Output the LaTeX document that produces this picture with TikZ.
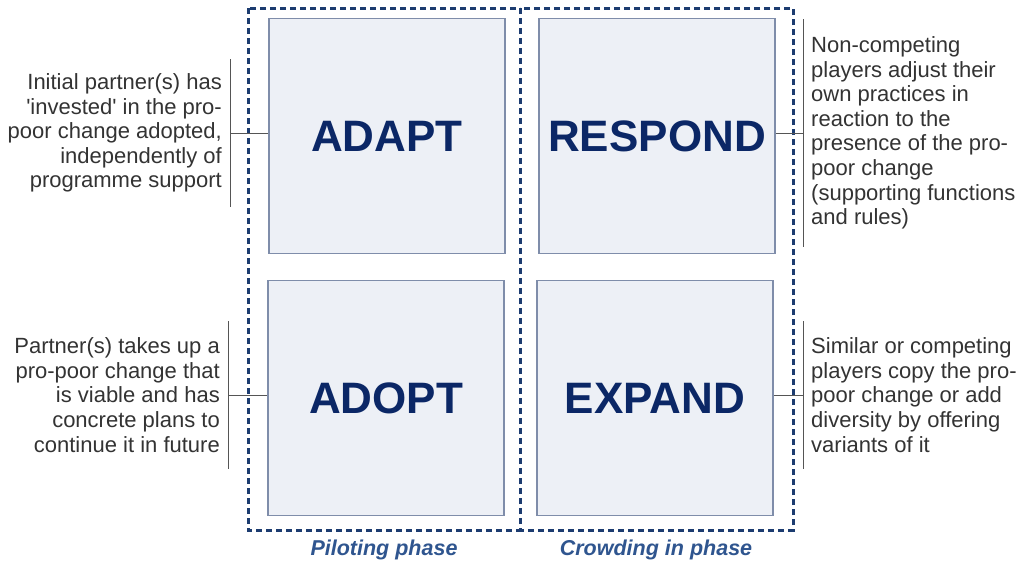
\documentclass[tikz,border=0pt]{standalone}
\usepackage{fontspec}
\setmainfont{Liberation Sans}
\usepackage{tikz}
\usetikzlibrary{positioning}

\definecolor{navy}{HTML}{0B2766}
\definecolor{dashblue}{HTML}{1C3C70}
\definecolor{boxfill}{HTML}{EDF0F6}
\definecolor{boxedge}{HTML}{7F8DAA}
\definecolor{phaseblue}{HTML}{2F558F}
\definecolor{notegray}{HTML}{333333}
\definecolor{linkgray}{HTML}{555555}

\tikzset{
  stage/.style={draw=boxedge, fill=boxfill, line width=1.3pt, minimum width=236pt, minimum height=235pt,
    font=\fontsize{44}{48}\selectfont\bfseries, text=navy},
  frame/.style={draw=dashblue, line width=3pt, dash pattern=on 6pt off 4pt},
  note/.style={font=\fontsize{22}{24.6}\selectfont, text=notegray, inner xsep=8pt, minimum height=147pt},
  link/.style={draw=linkgray, line width=1pt},
  phaselabel/.style={font=\fontsize{21.5}{24}\selectfont\bfseries\itshape, text=phaseblue},
}

\begin{document}
\begin{tikzpicture}[x=1pt,y=-1pt]
  \useasboundingbox[fill=white] (0,0) rectangle (1016,565);
  % phase frames
  \draw[frame] (248,8) rectangle (520,530);
  \draw[frame] (520,8) rectangle (793,530);
  \node[phaselabel] (pilot) at (384,550) {Piloting phase};
  \node[phaselabel] (crowd) at (656,550) {Crowding in phase};
  % the four stages
  \node[stage] (adapt) at (387,136) {ADAPT};
  \node[stage] (respond) at (657,136) {RESPOND};
  \node[stage] (adopt) at (386,398) {ADOPT};
  \node[stage] (expand) at (655,398) {EXPAND};
  % notes
  \node[note, align=right, anchor=east] (adaptnote) at (230,133)
    {Initial partner(s) has\\\textquotesingle invested\textquotesingle{} in the pro-\\poor change adopted,\\independently of\\programme support};
  \node[note, align=right, anchor=east] (adoptnote) at (228,395)
    {Partner(s) takes up a\\pro-poor change that\\is viable and has\\concrete plans to\\continue it in future};
  \node[note, align=left, anchor=west, minimum height=227pt] (respondnote) at (803,133)
    {Non-competing\\players adjust their\\own practices in\\reaction to the\\presence of the pro-\\poor change\\(supporting functions\\and rules)};
  \node[note, align=left, anchor=west] (expandnote) at (803,395)
    {Similar or competing\\players copy the pro-\\poor change or add\\diversity by offering\\variants of it};
  % brackets
  \draw[link] (adaptnote.north east) -- (adaptnote.south east);
  \draw[link] (adoptnote.north east) -- (adoptnote.south east);
  \draw[link] (respondnote.north west) -- (respondnote.south west);
  \draw[link] (expandnote.north west) -- (expandnote.south west);
  \draw[link] (adaptnote.east) -- (adaptnote.east -| adapt.west);
  \draw[link] (adoptnote.east) -- (adoptnote.east -| adopt.west);
  \draw[link] (respondnote.west) -- (respondnote.west -| respond.east);
  \draw[link] (expandnote.west) -- (expandnote.west -| expand.east);
\end{tikzpicture}
\end{document}
